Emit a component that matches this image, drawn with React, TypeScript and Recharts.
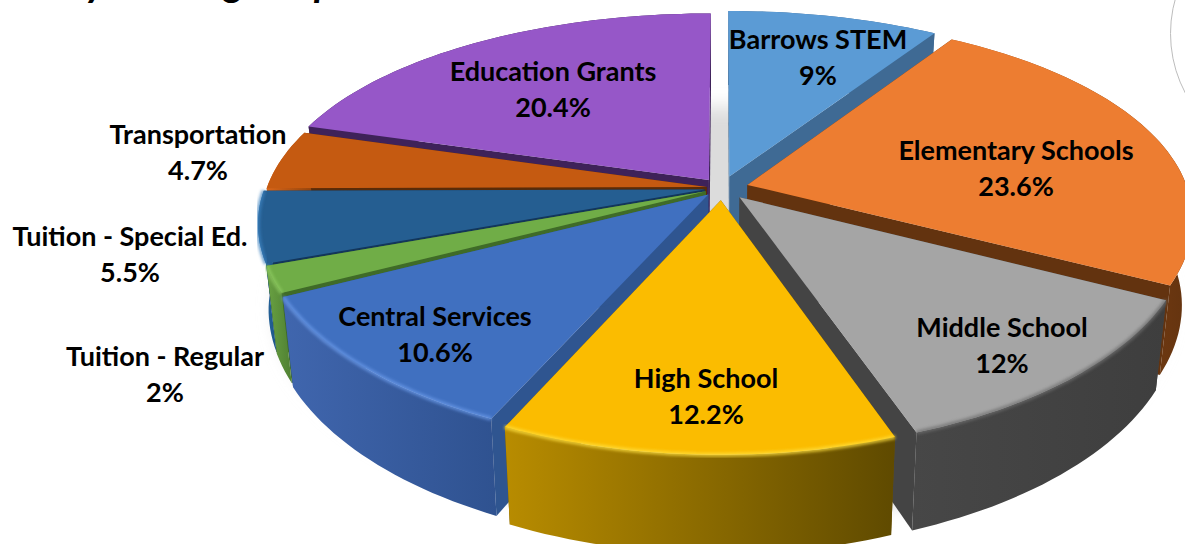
import { PieChart, Pie } from 'recharts';

const categories = [
  'Barrows STEM',
  'Elementary Schools',
  'Middle School',
  'High School',
  'Central Services',
  'Tuition - Regular',
  'Tuition - Special Ed.',
  'Transportation',
  'Education Grants',
];
const shares = [9, 23.6, 12, 12.2, 10.6, 2, 5.5, 4.7, 20.4];

// how far each slice is pulled out of the pie, as a fraction of the radius
const explode = [0.06, 0.06, 0.06, 0.06, 0.045, 0.04, 0.04, 0.035, 0.05];
// back to front
const paintOrder = [8, 0, 7, 1, 6, 5, 4, 2, 3];

const topColors = ['#5B9BD5', '#ED7D31', '#A5A5A5', '#FBBC00', '#4070C0', '#70AD47', '#255E91', '#C55A11', '#9657C8'];
const edgeColors = ['#3F6A94', '#63330F', '#444444', '#6B5200', '#2F5590', '#3F6B28', '#13365A', '#5A2B08', '#3E2259'];
const wallFrom = ['#3F6A94', '#A5541C', '#474747', '#B88C00', '#4066AE', '#6AA243', '#2C6EA8', '#D9661A', '#3E2259'];
const wallTo = ['#3F6A94', '#63330F', '#3E3E3E', '#5F4A00', '#2F5290', '#4F8032', '#1D5688', '#8F420C', '#3E2259'];
const bevelColors = ['none', 'none', '#6E6E6E', '#FFE040', '#6A9AE8', '#8FCB62', '#3A80BE', 'none', 'none'];

const labelCentres = [
  [818, 40],
  [1016, 151],
  [1002, 328],
  [706, 379],
  [435, 317],
  [165, 357],
  [130, 237],
  [198, 135],
  [553, 72],
];

const rows = categories.map((name, i) => ({ name, value: shares[i] }));

const WIDTH = 1185;
const HEIGHT = 544;
const CX = 722;
const CY = 188;
const RX = 440;
const RY = 201;
const PERSPECTIVE_X = 0.16;
const PERSPECTIVE_Y = 0.19;
const DEPTH = 84;
const BOTTOM_SCALE = 0.977;

const toRad = (deg: number) => (deg * Math.PI) / 180;

// pie plane -> screen, u to the right, v towards the viewer
function project(u: number, v: number, bottom: boolean) {
  const wx = 1 / (1 - PERSPECTIVE_X * v);
  const wy = 1 / (1 - PERSPECTIVE_Y * v);
  const s = bottom ? BOTTOM_SCALE : 1;
  const d = bottom ? DEPTH : 0;
  return [CX + s * RX * u * wx, CY + (s * RY * v + d) * wy];
}

const toPath = (pts: number[][]) => 'M' + pts.map((p) => p[0].toFixed(1) + ' ' + p[1].toFixed(1)).join('L') + 'Z';
const toLine = (pts: number[][]) => 'M' + pts.map((p) => p[0].toFixed(1) + ' ' + p[1].toFixed(1)).join('L');

function Slice3D(props: any) {
  const i = categories.indexOf(props.name);
  // recharts angles run counter clockwise from 3 o'clock
  const a0 = 90 - props.startAngle;
  const a1 = 90 - props.endAngle;
  const mid = toRad((a0 + a1) / 2);
  const ox = explode[i] * Math.sin(mid);
  const oy = -explode[i] * Math.cos(mid);

  const steps = Math.max(2, Math.ceil((a1 - a0) / 1.5));
  const angles: number[] = [];
  for (let k = 0; k <= steps; k++) angles.push(toRad(a0 + ((a1 - a0) * k) / steps));

  const arcOn = (bottom: boolean) => angles.map((t) => project(ox + Math.sin(t), oy - Math.cos(t), bottom));
  const top = arcOn(false);
  const low = arcOn(true);
  const apexTop = project(ox, oy, false);
  const apexLow = project(ox, oy, true);

  return (
    <g>
      <path d={toPath([apexTop, top[0], low[0], apexLow])} fill={edgeColors[i]} />
      <path d={toPath([apexTop, top[steps], low[steps], apexLow])} fill={edgeColors[i]} />
      <path d={toPath([...top, ...[...low].reverse()])} fill={`url(#wall-${i})`} />
      <path d={toPath([apexTop, ...top])} fill={topColors[i]} />
      {bevelColors[i] !== 'none' && (
        <path d={toLine(top)} fill="none" stroke={bevelColors[i]} strokeWidth={4} opacity={0.75} filter="url(#soft)" />
      )}
    </g>
  );
}

function Shadow() {
  const pts: number[][] = [];
  for (let k = 0; k < 120; k++) {
    const t = toRad(k * 3);
    const p = project(Math.sin(t), -Math.cos(t), false);
    pts.push([p[0], p[1] + 88]);
  }
  return <path d={toPath(pts)} fill="#DCDCDC" filter="url(#shadowBlur)" />;
}

function SliceLabel(props: any) {
  const i = categories.indexOf(props.name);
  const [x, y] = labelCentres[i];
  return (
    <text
      x={x}
      y={y}
      textAnchor="middle"
      fontFamily="Lato, 'Noto Sans', sans-serif"
      fontWeight={700}
      fontSize={27}
      fill="#000"
    >
      <tspan x={x} dy={9}>{props.name}</tspan>
      <tspan x={x} dy={36}>{props.value}%</tspan>
    </text>
  );
}

const titleGlyphs = [
  { text: 'y', left: 86 },
  { text: 'g', left: 224 },
  { text: 'p', left: 314 },
];

export default function App() {
  return (
    <div style={{ position: 'fixed', left: 0, top: 0, width: WIDTH, height: HEIGHT, overflow: 'hidden', background: '#fff' }}>
      {titleGlyphs.map((g) => (
        <span
          key={g.left}
          style={{
            position: 'absolute',
            left: g.left,
            top: -44,
            fontFamily: 'Lato, sans-serif',
            fontStyle: 'italic',
            fontWeight: 700,
            fontSize: 40,
            lineHeight: '50px',
            color: '#000',
          }}
        >
          {g.text}
        </span>
      ))}
      <div
        style={{
          position: 'absolute',
          left: 1170,
          top: -94.5,
          width: 255,
          height: 255,
          borderRadius: '50%',
          border: '1px solid #BDBDBD',
          boxSizing: 'border-box',
        }}
      />
      <div style={{ position: 'absolute', left: 0, top: 0 }}>
        <PieChart width={WIDTH} height={HEIGHT} margin={{ top: 0, right: 0, bottom: 0, left: 0 }}>
          <defs>
            <filter id="soft" x="-10%" y="-10%" width="120%" height="120%">
              <feGaussianBlur stdDeviation="1.4" />
            </filter>
            <filter id="shadowBlur" x="-10%" y="-10%" width="120%" height="120%">
              <feGaussianBlur stdDeviation="9" />
            </filter>
            {categories.map((name, i) => (
              <linearGradient key={name} id={`wall-${i}`} x1="0" y1="0" x2="1" y2="0">
                <stop offset="0%" stopColor={wallFrom[i]} />
                <stop offset="100%" stopColor={wallTo[i]} />
              </linearGradient>
            ))}
          </defs>
          <Pie
            data={[{ name: 'shadow', value: 1 }]}
            dataKey="value"
            cx={CX}
            cy={CY}
            outerRadius={RX}
            isAnimationActive={false}
            shape={() => <Shadow />}
          />
          {paintOrder.map((i) => (
            <Pie
              key={categories[i]}
              data={rows}
              dataKey="value"
              nameKey="name"
              cx={CX}
              cy={CY}
              outerRadius={RX}
              startAngle={90}
              endAngle={-270}
              isAnimationActive={false}
              shape={(p: any) => (p.name === categories[i] ? <Slice3D {...p} /> : <g />)}
            />
          ))}
          <Pie
            data={rows}
            dataKey="value"
            nameKey="name"
            cx={CX}
            cy={CY}
            outerRadius={RX}
            startAngle={90}
            endAngle={-270}
            isAnimationActive={false}
            shape={() => <g />}
            label={(p: any) => <SliceLabel {...p} />}
            labelLine={false}
          />
        </PieChart>
      </div>
    </div>
  );
}
